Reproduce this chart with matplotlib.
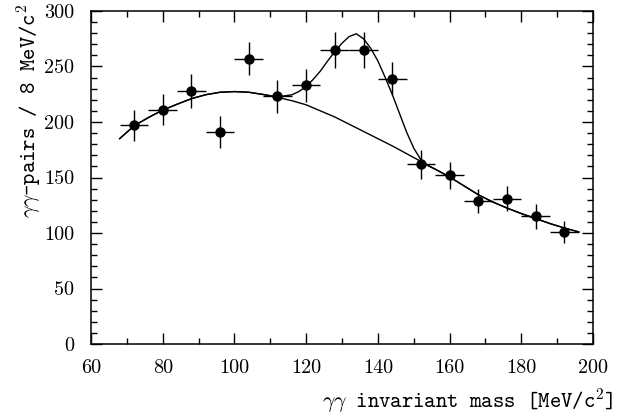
import numpy as np
import matplotlib
matplotlib.use("Agg")
import matplotlib.pyplot as plt
from matplotlib.ticker import MultipleLocator

plt.rcParams['mathtext.fontset'] = 'cm'

# measured spectrum (8 MeV bins)
mass = [72, 80, 88, 96, 104, 112, 120, 128, 136, 144, 152, 160, 168, 176, 184, 192]
counts = [197, 211, 228, 191, 257, 223, 233, 265, 265, 239, 162, 152, 129, 131, 115, 101]
count_err = [14, 14, 15, 14, 15, 15, 15, 16, 16, 15, 13, 12, 11, 11, 11, 10]
bin_half = [4] * len(mass)

# background fit curve
bg_x = [68, 72, 76, 80, 84, 88, 92, 96, 100, 104, 108, 112, 116, 120, 124, 128, 132,
        136, 140, 144, 148, 152, 156, 160, 164, 168, 172, 176, 180, 184, 188, 192, 196]
bg_y = [185, 196.5, 204, 210.7, 216, 221, 224.6, 226.8, 227.4, 226.8, 224.8, 222.2, 219.2,
        215.5, 210, 204.5, 198, 191.5, 185, 178.5, 171.5, 164.5, 157.5, 150.5, 142.5, 134.5,
        128, 122.5, 117.5, 113, 108.5, 104.5, 101]

# signal + background fit curve (joins the background outside 110-156)
tot_x = [68, 72, 76, 80, 84, 88, 92, 96, 100, 104, 108, 112, 116, 118, 120, 122, 124, 126,
         128, 130, 132, 134, 136, 138, 140, 142, 144, 146, 148, 150, 152, 154, 156, 160, 164,
         168, 172, 176, 180, 184, 188, 192, 196]
tot_y = [185, 196.5, 204, 210.7, 216, 221, 224.6, 226.8, 227.4, 226.8, 224.8, 222.6, 224.5,
         227.5, 232, 238.5, 246, 255, 263.5, 271, 277, 279.5, 275, 266.5, 255, 240.5, 225,
         208, 191, 176.5, 166, 160.5, 157.5, 150.5, 142.5, 134.5, 128, 122.5, 117.5, 113,
         108.5, 104.5, 101]

fig = plt.figure(figsize=(6.3, 4.18), dpi=100)
ax = fig.add_axes([0.1444, 0.177, 0.7969, 0.7967])

ax.plot(bg_x, bg_y, color='black', lw=1.0)
ax.plot(tot_x, tot_y, color='black', lw=1.0)
ax.errorbar(mass, counts, xerr=bin_half, yerr=count_err, fmt='o', color='black',
            ms=6.5, elinewidth=1.0, capsize=0)

ax.set_xlim(60, 200)
ax.set_ylim(0, 300)
ax.xaxis.set_major_locator(MultipleLocator(20))
ax.xaxis.set_minor_locator(MultipleLocator(10))
ax.yaxis.set_major_locator(MultipleLocator(50))
ax.yaxis.set_minor_locator(MultipleLocator(10))
ax.tick_params(which='both', direction='in', top=True, right=True, width=1.0)
ax.tick_params(which='major', length=8)
ax.tick_params(which='minor', length=4)
ax.tick_params(axis='x', which='major', pad=11)
ax.tick_params(axis='y', which='major', pad=12)
for lab in ax.get_xticklabels() + ax.get_yticklabels():
    lab.set_family('cmr10')
    lab.set_fontsize(14.5)
for s in ax.spines.values():
    s.set_linewidth(1.1)

fig.text(0.973, 0.042, r"$\gamma\gamma$ invariant mass [MeV/c$^2$]", family='cmtt10',
         fontsize=15.6, ha='right', va='center')
fig.text(0.045, 0.99, r"$\gamma\gamma$-pairs / 8 MeV/c$^2$", family='cmtt10',
         fontsize=15.6, rotation=90, ha='center', va='top')

fig.savefig("out.png", dpi=100)
